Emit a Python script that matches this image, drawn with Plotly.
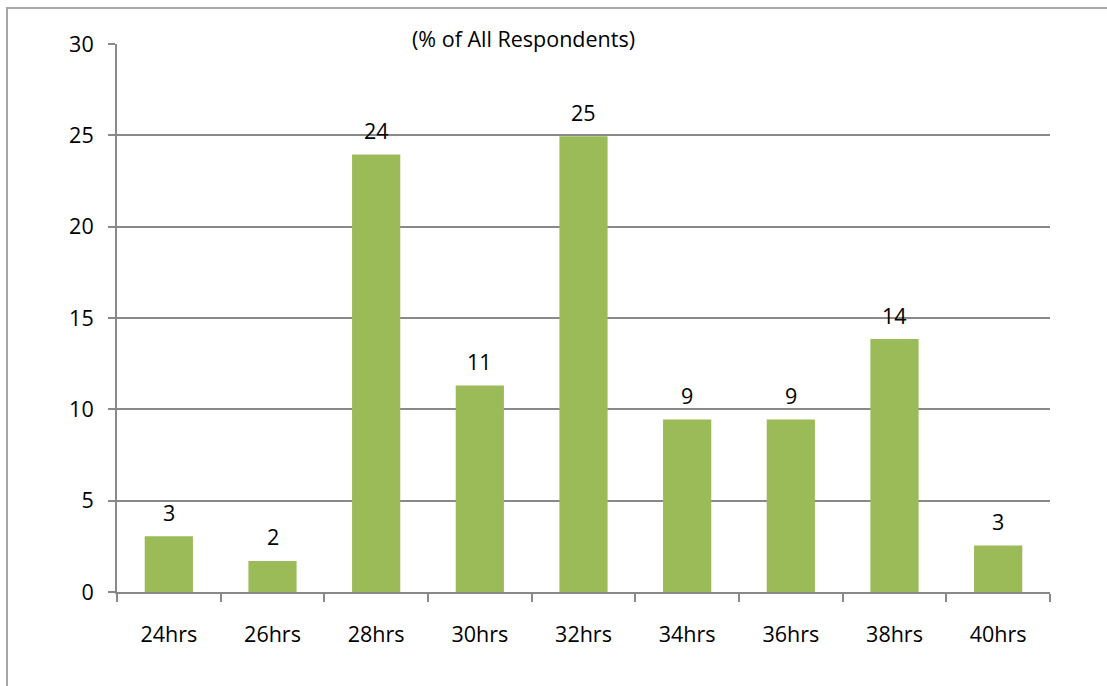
import plotly.graph_objects as go

categories = ["24hrs", "26hrs", "28hrs", "30hrs", "32hrs", "34hrs", "36hrs", "38hrs", "40hrs"]
values = [3.05, 1.7, 23.95, 11.3, 24.95, 9.45, 9.45, 13.85, 2.55]
labels = ["3", "2", "24", "11", "25", "9", "9", "14", "3"]
y_ticks = [0, 5, 10, 15, 20, 25, 30]
title_text = "(% of All Respondents)"

FONT = "Open Sans"
FS = 21.5
GRID = "#898989"

fig = go.Figure(
    go.Bar(
        x=categories,
        y=values,
        marker=dict(color="#9BBB59", line=dict(width=0)),
        hoverinfo="x+y",
    )
)

annotations = [
    dict(
        x=c, y=v, text=t, xref="x", yref="y",
        xanchor="center", yanchor="middle", yshift=24,
        showarrow=False, font=dict(family=FONT, size=FS, color="#000000"),
    )
    for c, v, t in zip(categories, values, labels)
]
annotations.append(
    dict(
        text=title_text,
        x=(523 - 117) / 933,
        y=1.0,
        xref="paper",
        yref="paper",
        xanchor="center",
        yanchor="middle",
        yshift=6,
        showarrow=False,
        font=dict(family=FONT, size=FS, color="#000000"),
    )
)

fig.update_layout(
    width=1107,
    height=686,
    margin=dict(l=117, r=57, t=44, b=94),
    paper_bgcolor="white",
    plot_bgcolor="white",
    bargap=0.535,
    showlegend=False,
    font=dict(family=FONT, size=FS, color="#000000"),
    xaxis=dict(
        showline=True,
        linecolor=GRID,
        linewidth=2,
        ticks="outside",
        tickson="boundaries",
        ticklen=8,
        tickcolor=GRID,
        tickwidth=2,
        showgrid=False,
        ticklabelstandoff=22,
        tickfont=dict(family=FONT, size=FS),
    ),
    yaxis=dict(
        range=[0, 30],
        tickvals=y_ticks,
        showline=True,
        linecolor=GRID,
        linewidth=2,
        ticks="outside",
        ticklen=7,
        tickcolor=GRID,
        tickwidth=2,
        showgrid=True,
        gridcolor=GRID,
        gridwidth=2,
        zeroline=False,
        ticklabelstandoff=10,
        tickfont=dict(family=FONT, size=FS),
    ),
    annotations=annotations,
    shapes=[
        dict(
            type="rect",
            xref="paper",
            yref="paper",
            x0=(7 - 117) / 933,
            x1=(1120 - 117) / 933,
            y0=(592 - 700) / 548,
            y1=(592 - 8) / 548,
            line=dict(color="#A6A6A6", width=2),
            fillcolor="rgba(0,0,0,0)",
            layer="below",
        )
    ],
)

fig.write_html("out.html")
